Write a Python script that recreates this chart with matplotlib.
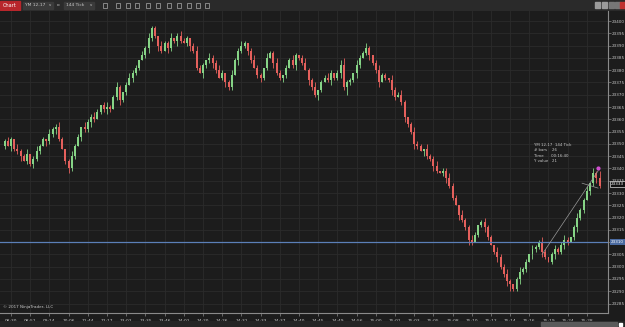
import matplotlib
matplotlib.use("Agg")
import matplotlib.pyplot as plt
from matplotlib.patches import Rectangle

# close of each 144 tick bar (YM 12-17)
closes = [
    23351, 23349, 23352, 23348, 23347, 23345, 23343, 23346, 23342, 23344,
    23347, 23349, 23352, 23351, 23354, 23356, 23357, 23352, 23348, 23343,
    23340, 23345, 23349, 23353, 23357, 23356, 23359, 23361, 23360, 23363,
    23366, 23364, 23365, 23364, 23369, 23373, 23368, 23371, 23374, 23377,
    23379, 23381, 23384, 23386, 23389, 23393, 23397, 23394, 23390, 23388,
    23391, 23389, 23393, 23392, 23394, 23392, 23391, 23393, 23390, 23388,
    23381, 23379, 23382, 23384, 23385, 23383, 23380, 23377, 23379, 23375,
    23373, 23378, 23384, 23388, 23390, 23391, 23388, 23384, 23381, 23378,
    23377, 23381, 23385, 23387, 23383, 23379, 23377, 23378, 23381, 23384,
    23382, 23386, 23385, 23383, 23380, 23376, 23373, 23370, 23372, 23375,
    23377, 23376, 23379, 23377, 23379, 23382, 23373, 23375, 23376, 23379,
    23382, 23385, 23387, 23389, 23386, 23383, 23380, 23375, 23378, 23377,
    23376, 23372, 23369, 23370, 23367, 23361, 23358, 23355, 23350, 23349,
    23347, 23348, 23345, 23344, 23341, 23339, 23338, 23339, 23336, 23333,
    23328, 23325, 23321, 23319, 23316, 23311, 23310, 23313, 23317, 23318,
    23316, 23312, 23309, 23306, 23304, 23300, 23297, 23294, 23293, 23291,
    23295, 23298, 23299, 23302, 23305, 23307, 23308, 23310, 23306, 23304,
    23302, 23305, 23307, 23306, 23309, 23311, 23310, 23312, 23316, 23320,
    23323, 23327, 23331, 23334, 23338, 23336, 23333]
first_open = 23349

up_wick = [
    1, 2, 1, 0, 2, 1, 1, 2, 0, 1, 2, 1, 1, 0, 2, 1, 1, 2, 1, 0,
    1, 2, 1, 1, 0, 2, 1, 1, 2, 1, 0, 1, 2, 1, 1, 2, 1, 0, 1, 2,
    1, 1, 0, 2, 1, 2, 1, 1, 0, 2, 1, 1, 2, 0, 1, 2, 1, 1, 0, 1,
    2, 1, 1, 0, 2, 1, 1, 2, 1, 0, 1, 2, 1, 1, 2, 1, 0, 1, 2, 1,
    1, 0, 2, 1, 1, 2, 1, 0, 1, 1, 2, 1, 0, 1, 2, 1, 1, 2, 0, 1,
    1, 2, 1, 0, 1, 2, 3, 1, 1, 0, 2, 1, 1, 2, 1, 0, 1, 2, 1, 1,
    0, 2, 1, 1, 2, 1, 0, 1, 2, 1, 1, 0, 2, 1, 1, 2, 0, 1, 1, 2,
    1, 1, 0, 2, 1, 1, 2, 1, 0, 1, 2, 1, 1, 0, 2, 1, 1, 2, 1, 0,
    1, 2, 1, 1, 0, 2, 1, 1, 2, 1, 0, 1, 2, 1, 1, 2, 1, 0, 1, 2,
    1, 1, 2, 0, 2, 1, 3]
dn_wick = [
    1, 0, 2, 1, 1, 2, 0, 1, 1, 2, 1, 1, 0, 2, 1, 1, 2, 1, 0, 1,
    2, 1, 1, 0, 2, 1, 1, 2, 1, 0, 1, 1, 2, 1, 0, 1, 2, 1, 1, 0,
    2, 1, 1, 0, 1, 2, 1, 1, 2, 1, 0, 2, 1, 1, 2, 1, 0, 1, 2, 1,
    1, 0, 2, 1, 1, 2, 1, 0, 1, 2, 1, 1, 0, 2, 1, 1, 2, 1, 0, 1,
    2, 1, 1, 0, 2, 1, 1, 2, 1, 0, 1, 2, 1, 1, 0, 2, 1, 1, 2, 1,
    0, 1, 2, 1, 1, 2, 1, 3, 1, 1, 2, 1, 0, 1, 2, 1, 1, 2, 0, 1,
    1, 2, 1, 0, 1, 2, 1, 1, 2, 1, 0, 2, 1, 1, 2, 1, 0, 1, 2, 1,
    1, 0, 2, 1, 1, 2, 1, 0, 1, 1, 2, 1, 0, 1, 2, 1, 1, 2, 3, 1,
    1, 2, 1, 1, 0, 2, 1, 1, 2, 1, 0, 1, 2, 1, 1, 2, 1, 0, 1, 2,
    1, 1, 0, 2, 1, 2, 1]

time_labels = ["08:30", "08:51", "09:14", "10:06", "11:44", "12:17", "13:02",
               "13:35", "13:46", "14:01", "14:20", "14:26", "14:31", "14:33",
               "14:37", "14:40", "14:45", "14:49", "14:56", "15:00", "15:01",
               "15:03", "15:05", "15:08", "15:10", "15:12", "15:14", "15:16",
               "15:19", "15:24", "15:28"]
price_ticks = list(range(23400, 23280, -5))
hline_price = 23310
last_price = 23333

BG = "#1c1c1c"
GRID = "#2b2b2b"
TXT = "#c8c8c8"
UP = "#86d486"
DOWN = "#e4605c"

W, H = 625, 327
fig = plt.figure(figsize=(W / 100, H / 100), dpi=100, facecolor=BG)

def box(x0, y0, x1, y1):
    # pixel box -> figure fraction [l, b, w, h]
    return [x0 / W, 1 - y1 / H, (x1 - x0) / W, (y1 - y0) / H]

# toolbar
tb = fig.add_axes(box(0, 0, W, 11))
tb.set_xlim(0, W)
tb.set_ylim(11, 0)
tb.axis("off")
tb.add_patch(Rectangle((0, 0), W, 11, color="#2a2a2a"))
tb.add_patch(Rectangle((0, 1), 20, 9, color="#b8262b"))
tb.text(10, 5.5, "Chart", color="white", fontsize=3.6, ha="center", va="center")
tb.add_patch(Rectangle((23, 2), 30, 7, color="#3a3a3a"))
tb.text(25, 5.5, "YM 12-17", color=TXT, fontsize=3.2, va="center")
tb.text(49, 5.5, "v", color=TXT, fontsize=2.8, va="center")
tb.text(57, 5.5, "o", color=TXT, fontsize=3.2, va="center")
tb.add_patch(Rectangle((64, 2), 30, 7, color="#3a3a3a"))
tb.text(66, 5.5, "144 Tick", color=TXT, fontsize=3.2, va="center")
tb.text(90, 5.5, "v", color=TXT, fontsize=2.8, va="center")
for xi in [103, 116, 126, 135, 146, 156, 167, 177, 187, 196, 205]:
    tb.add_patch(Rectangle((xi, 3), 4, 5, fill=False, ec="#aaaaaa", lw=0.5))
for xi, c in [(595, "#9a9a9a"), (602, "#9a9a9a"), (609, "#777777"),
              (615, "#777777"), (620, "#c03030")]:
    tb.add_patch(Rectangle((xi, 2), 5, 6, color=c))

# main chart
ax = fig.add_axes(box(0, 11, 608, 313), facecolor=BG)
n = len(closes)
opens = [first_open] + closes[:-1]
for i in range(n):
    o, c = opens[i], closes[i]
    col = UP if c >= o else DOWN
    hi = max(o, c) + up_wick[i]
    lo = min(o, c) - dn_wick[i]
    ax.vlines(i, lo, hi, color=col, lw=0.6, zorder=3)
    h = c - o if c != o else 0.25
    ax.bar(i, h, bottom=o, width=0.62, color=col, lw=0, zorder=4)

ppx = 5 / 12.2
ax.set_ylim(23400 - 290 * ppx, 23400 + 10 * ppx)
ax.set_xlim(-1.45, 188.6)
xt = [2 + 6 * k for k in range(len(time_labels))]
ax.set_xticks(xt)
ax.set_xticklabels(time_labels)
ax.set_yticks(price_ticks)
# the blue line's own label sits where the 23310 tick label would
ax.set_yticklabels(["" if p == hline_price else str(p) for p in price_ticks])
ax.grid(True, color=GRID, lw=0.6)
ax.set_axisbelow(True)
ax.yaxis.tick_right()
ax.tick_params(axis="y", colors="#888888", labelcolor=TXT, labelsize=3.0,
               length=2, width=0.5, pad=1)
ax.tick_params(axis="x", colors="#888888", labelcolor=TXT, labelsize=3.2,
               length=2, width=0.5, pad=2)
for s in ["top", "left"]:
    ax.spines[s].set_visible(False)
for s in ["right", "bottom"]:
    ax.spines[s].set_color("#8a8a8a")
    ax.spines[s].set_linewidth(0.8)

# horizontal line drawing
ax.axhline(hline_price, color="#5b7fb8", lw=0.9, zorder=5)
ax.annotate(str(hline_price), xy=(1, hline_price), xycoords=("axes fraction", "data"),
            xytext=(2, 0), textcoords="offset points", fontsize=3.0, color="white",
            va="center", annotation_clip=False,
            bbox=dict(boxstyle="square,pad=0.2", fc="#4a6aa0", ec="none"))
ax.annotate(str(last_price), xy=(1, last_price + 0.8), xycoords=("axes fraction", "data"),
            xytext=(2, 0), textcoords="offset points", fontsize=3.0, color="white",
            va="center", annotation_clip=False, zorder=10,
            bbox=dict(boxstyle="square,pad=0.2", fc="#111111", ec="#dddddd", lw=0.5))

# ruler tool
ax.plot([168, 185.5], [23305, 23339], color="#9a9a9a", lw=0.5, zorder=6)
ax.plot([180.5, 185.5], [23334, 23332], color="#9a9a9a", lw=0.5, zorder=6)
ax.plot([185.5], [23340], marker="o", ms=2, color="#d050d0", zorder=7)
tip = ["YM 12-17  144 Tick", "# bars    26", "Time      00:16:40", "Y value   21"]
for k, t in enumerate(tip):
    ax.text(165.5, 23349 - k * 2.1, t, color=TXT, fontsize=2.8, zorder=7)

fig.text(3 / W, 1 - 308 / H, "\u00a9 2017 NinjaTrader, LLC", color=TXT, fontsize=3)

# scroll bar
sb = fig.add_axes(box(0, 321, W, 327))
sb.set_xlim(0, W)
sb.set_ylim(6, 0)
sb.axis("off")
sb.add_patch(Rectangle((0, 0), W, 6, color="#252525"))
sb.add_patch(Rectangle((541, 1), 76, 4, color="#5a5a5a"))
sb.add_patch(Rectangle((619, 1.5), 3, 3, color="white"))

fig.savefig("out.png", dpi=100, facecolor=BG)
